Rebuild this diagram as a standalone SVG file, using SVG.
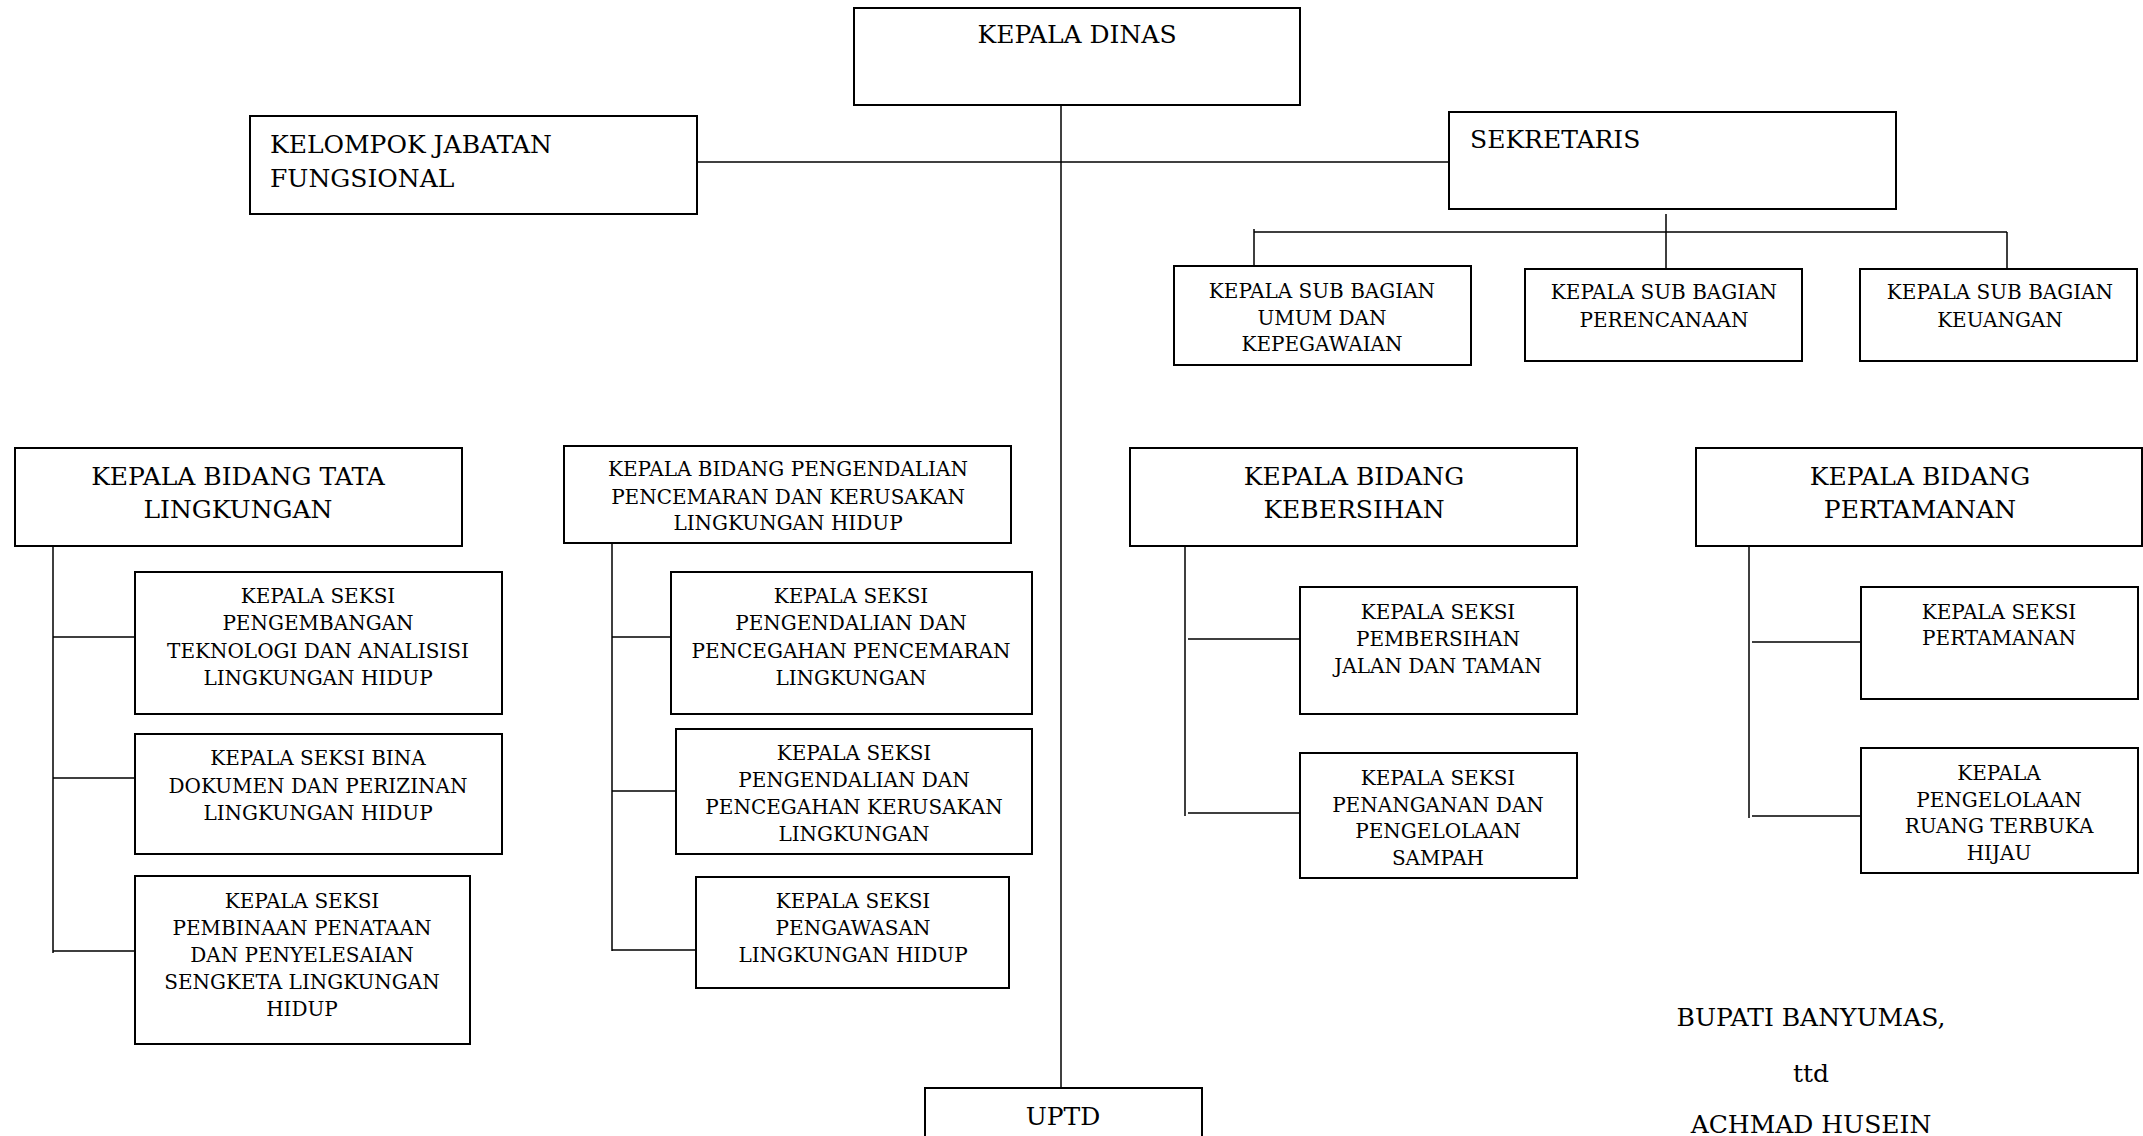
<svg xmlns="http://www.w3.org/2000/svg" width="2143" height="1136" viewBox="0 0 2143 1136">
<style>
.box{fill:#fff;stroke:#000;stroke-width:2}
.ln{stroke:#000;stroke-width:1.5;fill:none}
text{font-family:"DejaVu Serif","Liberation Serif",serif;fill:#000}
.b{font-size:25px}
.s{font-size:20px}
.c{text-anchor:middle}
</style>
<rect width="2143" height="1136" fill="#fff"/>
<g id="connectors">
<path class="ln" d="M1061 105V1088"/>
<path class="ln" d="M697 162H1449"/>
<path class="ln" d="M1666 214V268M1254 229V266M1254 232H2007M2007 232V270"/>
<path class="ln" d="M53 546V953M53 637H135M53 778H135M53 951H135"/>
<path class="ln" d="M612 544V951M612 637H671M612 791H676M612 950H696"/>
<path class="ln" d="M1185 542V816M1188 639H1300M1188 813H1300"/>
<path class="ln" d="M1749 546V818M1752 642H1861M1752 816H1861"/>
</g>
<g id="kepala-dinas">
<rect class="box" x="854" y="8" width="446" height="97"/>
<text class="b c" x="1077" y="43">KEPALA DINAS</text>
</g>
<g id="kelompok">
<rect class="box" x="250" y="116" width="447" height="98"/>
<text class="b" x="270" y="153">KELOMPOK JABATAN</text>
<text class="b" x="270" y="187">FUNGSIONAL</text>
</g>
<g id="sekretaris">
<rect class="box" x="1449" y="112" width="447" height="97"/>
<text class="b" x="1470" y="148">SEKRETARIS</text>
</g>
<g id="subbag-umum">
<rect class="box" x="1174" y="266" width="297" height="99"/>
<text class="s c" x="1322" y="298">KEPALA SUB BAGIAN</text>
<text class="s c" x="1322" y="325">UMUM DAN</text>
<text class="s c" x="1322" y="351">KEPEGAWAIAN</text>
</g>
<g id="subbag-perencanaan">
<rect class="box" x="1525" y="269" width="277" height="92"/>
<text class="s c" x="1664" y="299">KEPALA SUB BAGIAN</text>
<text class="s c" x="1664" y="327">PERENCANAAN</text>
</g>
<g id="subbag-keuangan">
<rect class="box" x="1860" y="269" width="277" height="92"/>
<text class="s c" x="2000" y="299">KEPALA SUB BAGIAN</text>
<text class="s c" x="2000" y="327">KEUANGAN</text>
</g>
<g id="bidang-tata">
<rect class="box" x="15" y="448" width="447" height="98"/>
<text class="b c" x="238" y="485">KEPALA BIDANG TATA</text>
<text class="b c" x="238" y="518">LINGKUNGAN</text>
</g>
<g id="seksi-pengembangan">
<rect class="box" x="135" y="572" width="367" height="142"/>
<text class="s c" x="318" y="603">KEPALA SEKSI</text>
<text class="s c" x="318" y="630">PENGEMBANGAN</text>
<text class="s c" x="318" y="658">TEKNOLOGI DAN ANALISISI</text>
<text class="s c" x="318" y="685">LINGKUNGAN HIDUP</text>
</g>
<g id="seksi-bina">
<rect class="box" x="135" y="734" width="367" height="120"/>
<text class="s c" x="318" y="765">KEPALA SEKSI BINA</text>
<text class="s c" x="318" y="793">DOKUMEN DAN PERIZINAN</text>
<text class="s c" x="318" y="820">LINGKUNGAN HIDUP</text>
</g>
<g id="seksi-pembinaan">
<rect class="box" x="135" y="876" width="335" height="168"/>
<text class="s c" x="302" y="908">KEPALA SEKSI</text>
<text class="s c" x="302" y="935">PEMBINAAN PENATAAN</text>
<text class="s c" x="302" y="962">DAN PENYELESAIAN</text>
<text class="s c" x="302" y="989">SENGKETA LINGKUNGAN</text>
<text class="s c" x="302" y="1016">HIDUP</text>
</g>
<g id="bidang-pengendalian">
<rect class="box" x="564" y="446" width="447" height="97"/>
<text class="s c" x="788" y="476">KEPALA BIDANG PENGENDALIAN</text>
<text class="s c" x="788" y="504">PENCEMARAN DAN KERUSAKAN</text>
<text class="s c" x="788" y="530">LINGKUNGAN HIDUP</text>
</g>
<g id="seksi-pencemaran">
<rect class="box" x="671" y="572" width="361" height="142"/>
<text class="s c" x="851" y="603">KEPALA SEKSI</text>
<text class="s c" x="851" y="630">PENGENDALIAN DAN</text>
<text class="s c" x="851" y="658">PENCEGAHAN PENCEMARAN</text>
<text class="s c" x="851" y="685">LINGKUNGAN</text>
</g>
<g id="seksi-kerusakan">
<rect class="box" x="676" y="729" width="356" height="125"/>
<text class="s c" x="854" y="760">KEPALA SEKSI</text>
<text class="s c" x="854" y="787">PENGENDALIAN DAN</text>
<text class="s c" x="854" y="814">PENCEGAHAN KERUSAKAN</text>
<text class="s c" x="854" y="841">LINGKUNGAN</text>
</g>
<g id="seksi-pengawasan">
<rect class="box" x="696" y="877" width="313" height="111"/>
<text class="s c" x="853" y="908">KEPALA SEKSI</text>
<text class="s c" x="853" y="935">PENGAWASAN</text>
<text class="s c" x="853" y="962">LINGKUNGAN HIDUP</text>
</g>
<g id="bidang-kebersihan">
<rect class="box" x="1130" y="448" width="447" height="98"/>
<text class="b c" x="1354" y="485">KEPALA BIDANG</text>
<text class="b c" x="1354" y="518">KEBERSIHAN</text>
</g>
<g id="seksi-pembersihan">
<rect class="box" x="1300" y="587" width="277" height="127"/>
<text class="s c" x="1438" y="619">KEPALA SEKSI</text>
<text class="s c" x="1438" y="646">PEMBERSIHAN</text>
<text class="s c" x="1438" y="673">JALAN DAN TAMAN</text>
</g>
<g id="seksi-sampah">
<rect class="box" x="1300" y="753" width="277" height="125"/>
<text class="s c" x="1438" y="785">KEPALA SEKSI</text>
<text class="s c" x="1438" y="812">PENANGANAN DAN</text>
<text class="s c" x="1438" y="838">PENGELOLAAN</text>
<text class="s c" x="1438" y="865">SAMPAH</text>
</g>
<g id="bidang-pertamanan">
<rect class="box" x="1696" y="448" width="446" height="98"/>
<text class="b c" x="1920" y="485">KEPALA BIDANG</text>
<text class="b c" x="1920" y="518">PERTAMANAN</text>
</g>
<g id="seksi-pertamanan">
<rect class="box" x="1861" y="587" width="277" height="112"/>
<text class="s c" x="1999" y="619">KEPALA SEKSI</text>
<text class="s c" x="1999" y="645">PERTAMANAN</text>
</g>
<g id="seksi-rth">
<rect class="box" x="1861" y="748" width="277" height="125"/>
<text class="s c" x="1999" y="780">KEPALA</text>
<text class="s c" x="1999" y="807">PENGELOLAAN</text>
<text class="s c" x="1999" y="833">RUANG TERBUKA</text>
<text class="s c" x="1999" y="860">HIJAU</text>
</g>
<g id="uptd">
<rect class="box" x="925" y="1088" width="277" height="60"/>
<text class="b c" x="1063" y="1125">UPTD</text>
</g>
<g id="signature">
<text class="b c" x="1811" y="1026">BUPATI BANYUMAS,</text>
<text class="b c" x="1811" y="1082">ttd</text>
<text class="b c" x="1811" y="1133">ACHMAD HUSEIN</text>
</g>
</svg>
